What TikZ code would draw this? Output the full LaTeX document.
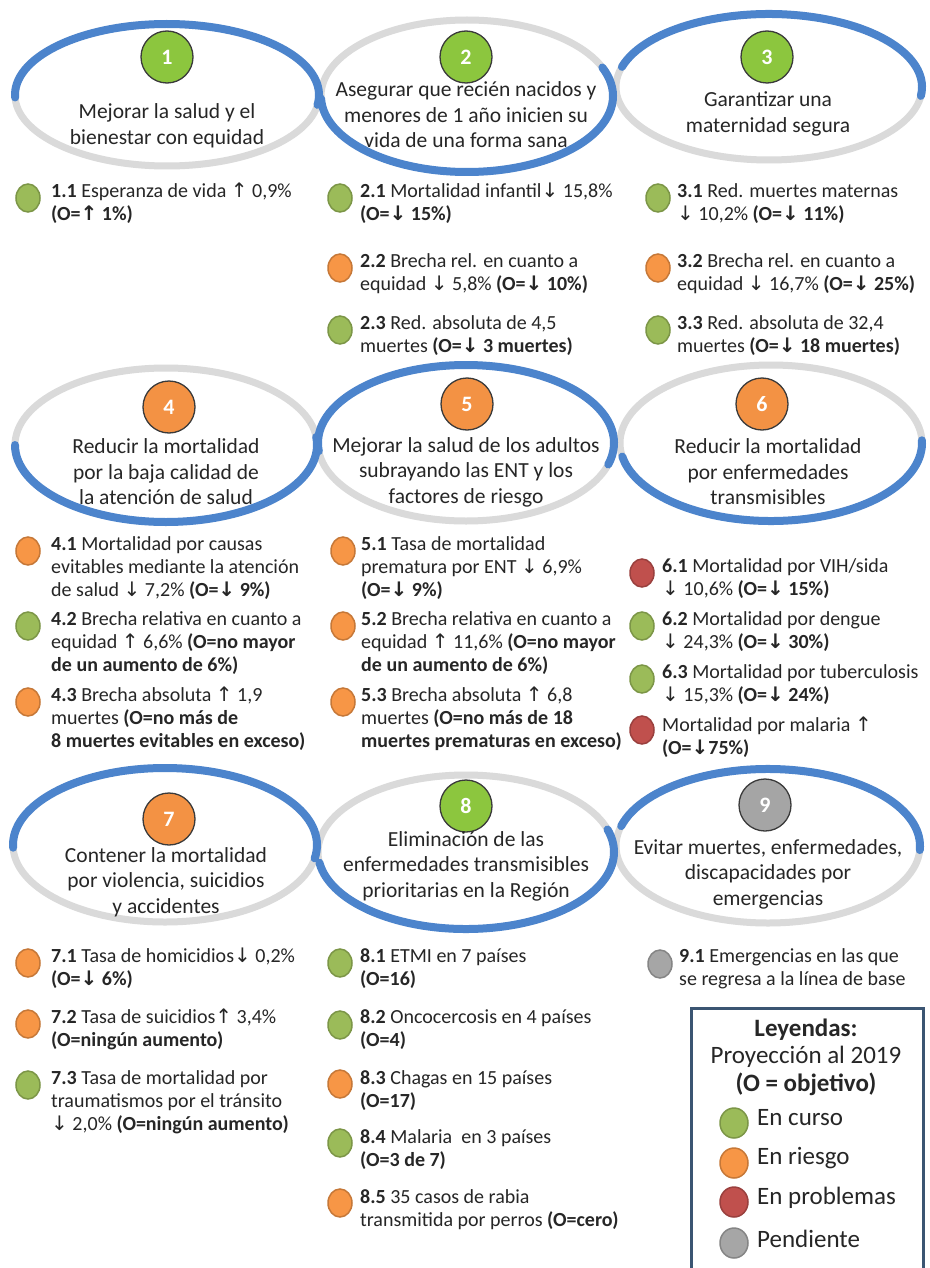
\documentclass[tikz,border=0pt]{standalone}
\usepackage{fontspec}
\setmainfont{Carlito}
\newfontfamily\symfont{DejaVu Sans}
\usetikzlibrary{shapes.geometric}
\definecolor{inkgray}{HTML}{262626}
\definecolor{ringgray}{HTML}{DADADA}
\definecolor{ringblue}{HTML}{4C84CC}
\definecolor{numrim}{HTML}{3A3A3A}
\definecolor{numgreen}{HTML}{8CC63E}
\definecolor{numorange}{HTML}{F39244}
\definecolor{numgray}{HTML}{A5A5A5}
\definecolor{okgreen}{HTML}{9BBB59}
\definecolor{riskorange}{HTML}{F79646}
\definecolor{badred}{HTML}{C0504D}
\definecolor{pendgray}{HTML}{A6A6A6}
\definecolor{legframe}{HTML}{3B5572}
\newcommand{\upar}{{\symfont ↑}}
\newcommand{\dnar}{{\symfont ↓}}

\begin{document}
\begin{tikzpicture}[
      x=1pt, y=1pt,
      every node/.style={text=inkgray},
      ring/.style={draw=ringgray, line width=7},
      arcblue/.style={draw=ringblue, line width=8, line cap=round},
      numc/.style={circle, draw=numrim, line width=1.3, fill=#1, minimum size=52,
                   inner sep=0, text=white, font=\fontsize{22}{22}\selectfont\bfseries},
      ttl/.style={align=center, font=\fontsize{21.5}{25.5}\selectfont},
      sdot/.style={ellipse, draw=#1!80!black, line width=1.5, fill=#1,
                   minimum width=24, minimum height=28, inner sep=0},
      itm/.style={anchor=north west, align=left, inner sep=0,
                  font=\fontsize{20}{23}\selectfont, execute at begin node=\strut},
      leg/.style={font=\fontsize{25}{29}\selectfont},
    ]
    \useasboundingbox (0,0) rectangle (929,-1268);
    \fill[white] (0,0) rectangle (929,-1268);

    % row 1
    \draw[ring] (167,-95) ellipse [x radius=152, y radius=71];
    \draw[ring] (467,-96) ellipse [x radius=146, y radius=76];
    \draw[ring] (769,-87) ellipse [x radius=153, y radius=73];
    \draw[arcblue] (167,-95) ++(182:152 and 71) arc[start angle=182, end angle=-8, x radius=152, y radius=71];
    \draw[arcblue] (467,-96) ++(182:146 and 76) arc[start angle=182, end angle=382, x radius=146, y radius=76];
    \draw[arcblue] (769,-87) ++(164:153 and 73) arc[start angle=164, end angle=-7, x radius=153, y radius=73];

    \node[numc=numgreen] (n1) at (167,-57) {1};
    \node[numc=numgreen] (n2) at (466,-57) {2};
    \node[numc=numgreen] (n3) at (767,-57) {3};
    \node[ttl] (t1) at (167,-126) {Mejorar la salud y el\\bienestar con equidad};
    \node[ttl] (t2) at (466,-115) {Asegurar que recién nacidos y\\menores de 1 año inicien su\\vida de una forma sana};
    \node[ttl] (t3) at (768,-114) {Garantizar una\\maternidad segura};

    \node[sdot=okgreen]    (d11) at (28,-198) {};
    \node[itm] (i11) at (51,-183) {\textbf{1.1} Esperanza de vida \upar{} 0,9\%\\\textbf{(O=\upar{} 1\%)}};
    \node[sdot=okgreen]    (d21) at (340,-198) {};
    \node[itm] (i21) at (360,-183) {\textbf{2.1} Mortalidad infantil\dnar{} 15,8\%\\\textbf{(O=\dnar{} 15\%)}};
    \node[sdot=riskorange] (d22) at (340,-268) {};
    \node[itm] (i22) at (360,-253) {\textbf{2.2} Brecha rel. en cuanto a\\equidad \dnar{} 5,8\% \textbf{(O=\dnar{} 10\%)}};
    \node[sdot=okgreen]    (d23) at (340,-330) {};
    \node[itm] (i23) at (360,-315) {\textbf{2.3} Red. absoluta de 4,5\\muertes \textbf{(O=\dnar{} 3 muertes)}};
    \node[sdot=okgreen]    (d31) at (658,-198) {};
    \node[itm] (i31) at (677,-183) {\textbf{3.1} Red. muertes maternas\\\dnar{} 10,2\% \textbf{(O=\dnar{} 11\%)}};
    \node[sdot=riskorange] (d32) at (658,-268) {};
    \node[itm] (i32) at (677,-253) {\textbf{3.2} Brecha rel. en cuanto a\\equidad \dnar{} 16,7\% \textbf{(O=\dnar{} 25\%)}};
    \node[sdot=okgreen]    (d33) at (658,-330) {};
    \node[itm] (i33) at (677,-315) {\textbf{3.3} Red. absoluta de 32,4\\muertes \textbf{(O=\dnar{} 18 muertes)}};

    % row 2
    \draw[ring] (166,-445) ellipse [x radius=151, y radius=77];
    \draw[ring] (466,-443) ellipse [x radius=148, y radius=78];
    \draw[ring] (771,-443) ellipse [x radius=151, y radius=78];
    \draw[arcblue] (166,-445) ++(180:151 and 77) arc[start angle=180, end angle=366, x radius=151, y radius=77];
    \draw[arcblue] (466,-443) ++(186:148 and 78) arc[start angle=186, end angle=-16, x radius=148, y radius=78];
    \draw[arcblue] (771,-443) ++(190:151 and 78) arc[start angle=190, end angle=362, x radius=151, y radius=78];

    \node[numc=numorange] (n4) at (169,-407) {4};
    \node[numc=numorange] (n5) at (467,-404) {5};
    \node[numc=numorange] (n6) at (762,-404) {6};
    \node[ttl] (t4) at (166,-472) {Reducir la mortalidad\\por la baja calidad de\\la atención de salud};
    \node[ttl] (t5) at (466,-472) {Mejorar la salud de los adultos\\subrayando las ENT y los\\factores de riesgo};
    \node[ttl] (t6) at (768,-472) {Reducir la mortalidad\\por enfermedades\\transmisibles};

    \node[sdot=riskorange] (d41) at (28,-551) {};
    \node[itm] (i41) at (51,-536) {\textbf{4.1} Mortalidad por causas\\evitables mediante la atención\\de salud \dnar{} 7,2\% \textbf{(O=\dnar{} 9\%)}};
    \node[sdot=okgreen]    (d42) at (28,-626) {};
    \node[itm] (i42) at (51,-611) {\textbf{4.2} Brecha relativa en cuanto a\\equidad \upar{} 6,6\% \textbf{(O=no mayor}\\\textbf{de un aumento de 6\%)}};
    \node[sdot=riskorange] (d43) at (28,-702) {};
    \node[itm] (i43) at (51,-687) {\textbf{4.3} Brecha absoluta \upar{} 1,9\\muertes \textbf{(O=no más de}\\\textbf{8 muertes evitables en exceso)}};
    \node[sdot=riskorange] (d51) at (343,-551) {};
    \node[itm] (i51) at (361,-536) {\textbf{5.1} Tasa de mortalidad\\prematura por ENT \dnar{} 6,9\%\\\textbf{(O=\dnar{} 9\%)}};
    \node[sdot=riskorange] (d52) at (343,-626) {};
    \node[itm] (i52) at (361,-611) {\textbf{5.2} Brecha relativa en cuanto a\\equidad \upar{} 11,6\% \textbf{(O=no mayor}\\\textbf{de un aumento de 6\%)}};
    \node[sdot=riskorange] (d53) at (343,-702) {};
    \node[itm] (i53) at (361,-687) {\textbf{5.3} Brecha absoluta \upar{} 6,8\\muertes \textbf{(O=no más de 18}\\\textbf{muertes prematuras en exceso)}};
    \node[sdot=badred]     (d61) at (642,-573) {};
    \node[itm] (i61) at (662,-558) {\textbf{6.1} Mortalidad por VIH/sida\\\dnar{} 10,6\% \textbf{(O=\dnar{} 15\%)}};
    \node[sdot=okgreen]    (d62) at (642,-626) {};
    \node[itm] (i62) at (662,-611) {\textbf{6.2} Mortalidad por dengue\\\dnar{} 24,3\% \textbf{(O=\dnar{} 30\%)}};
    \node[sdot=okgreen]    (d63) at (642,-679) {};
    \node[itm] (i63) at (662,-664) {\textbf{6.3} Mortalidad por tuberculosis\\\dnar{} 15,3\% \textbf{(O=\dnar{} 24\%)}};
    \node[sdot=badred]     (d64) at (642,-730) {};
    \node[itm] (i64) at (662,-717) {Mortalidad por malaria \upar\\\textbf{(O=\dnar75\%)}};

    % row 3
    \draw[ring] (165,-845) ellipse [x radius=152, y radius=77];
    \draw[ring] (466,-852) ellipse [x radius=148, y radius=77];
    \draw[ring] (768,-846) ellipse [x radius=152, y radius=77];
    \draw[arcblue] (165,-845) ++(182:152 and 77) arc[start angle=182, end angle=-10, x radius=152, y radius=77];
    \draw[arcblue] (466,-852) ++(188:148 and 77) arc[start angle=188, end angle=377, x radius=148, y radius=77];
    \draw[arcblue] (768,-846) ++(165:152 and 77) arc[start angle=165, end angle=-3, x radius=152, y radius=77];

    \node[numc=numorange] (n7) at (169,-819) {7};
    \node[numc=numgreen]  (n8) at (466,-806) {8};
    \node[numc=numgray]   (n9) at (765,-805) {9};
    \node[ttl] (t7) at (166,-882) {Contener la mortalidad\\por violencia, suicidios\\y accidentes};
    \node[ttl] (t8) at (466,-866) {Eliminación de las\\enfermedades transmisibles\\prioritarias en la Región};
    \node[ttl] (t9) at (768,-874) {Evitar muertes, enfermedades,\\discapacidades por\\emergencias};

    \node[sdot=riskorange] (d71) at (28,-963) {};
    \node[itm] (i71) at (51,-948) {\textbf{7.1} Tasa de homicidios\dnar{} 0,2\%\\\textbf{(O=\dnar{} 6\%)}};
    \node[sdot=riskorange] (d72) at (28,-1024) {};
    \node[itm] (i72) at (51,-1009) {\textbf{7.2} Tasa de suicidios\upar{} 3,4\%\\\textbf{(O=ningún aumento)}};
    \node[sdot=okgreen]    (d73) at (28,-1085) {};
    \node[itm] (i73) at (51,-1070) {\textbf{7.3} Tasa de mortalidad por\\traumatismos por el tránsito\\\dnar{} 2,0\% \textbf{(O=ningún aumento)}};
    \node[sdot=okgreen]    (d81) at (340,-963) {};
    \node[itm] (i81) at (360,-948) {\textbf{8.1} ETMI en 7 países\\\textbf{(O=16)}};
    \node[sdot=okgreen]    (d82) at (340,-1025) {};
    \node[itm] (i82) at (360,-1009) {\textbf{8.2} Oncocercosis en 4 países\\\textbf{(O=4)}};
    \node[sdot=riskorange] (d83) at (340,-1084) {};
    \node[itm] (i83) at (360,-1070) {\textbf{8.3} Chagas en 15 países\\\textbf{(O=17)}};
    \node[sdot=okgreen]    (d84) at (340,-1143) {};
    \node[itm] (i84) at (360,-1129) {\textbf{8.4} Malaria\ \ en 3 países\\\textbf{(O=3 de 7)}};
    \node[sdot=riskorange] (d85) at (340,-1203) {};
    \node[itm] (i85) at (360,-1189) {\textbf{8.5} 35 casos de rabia\\transmitida por perros \textbf{(O=cero)}};
    \node[sdot=pendgray]   (d91) at (660,-964) {};
    \node[itm] (i91) at (679,-948) {\textbf{9.1} Emergencias en las que\\se regresa a la línea de base};

    % legend
    \node[draw=legframe, line width=3, anchor=north west, minimum width=232,
          minimum height=272, inner sep=0] (legbox) at (690,-1007) {};
    \node[leg, font=\fontsize{25}{29}\selectfont\bfseries] (lg1) at (806,-1030) {Leyendas:};
    \node[leg] (lg2) at (806,-1057) {Proyección al 2019};
    \node[leg, font=\fontsize{25}{29}\selectfont\bfseries] (lg3) at (806,-1084) {(O = objetivo)};
    \node[sdot=okgreen, minimum width=28, minimum height=30]    (ld1) at (734,-1123) {};
    \node[leg, anchor=west, inner sep=0] (lt1) at (757,-1118) {En curso};
    \node[sdot=riskorange, minimum width=28, minimum height=30] (ld2) at (734,-1163) {};
    \node[leg, anchor=west, inner sep=0] (lt2) at (757,-1158) {En riesgo};
    \node[sdot=badred, minimum width=28, minimum height=30]     (ld3) at (734,-1202) {};
    \node[leg, anchor=west, inner sep=0] (lt3) at (757,-1198) {En problemas};
    \node[sdot=pendgray, minimum width=28, minimum height=30]   (ld4) at (734,-1243) {};
    \node[leg, anchor=west, inner sep=0] (lt4) at (757,-1239) {Pendiente};
  \end{tikzpicture}
\end{document}
